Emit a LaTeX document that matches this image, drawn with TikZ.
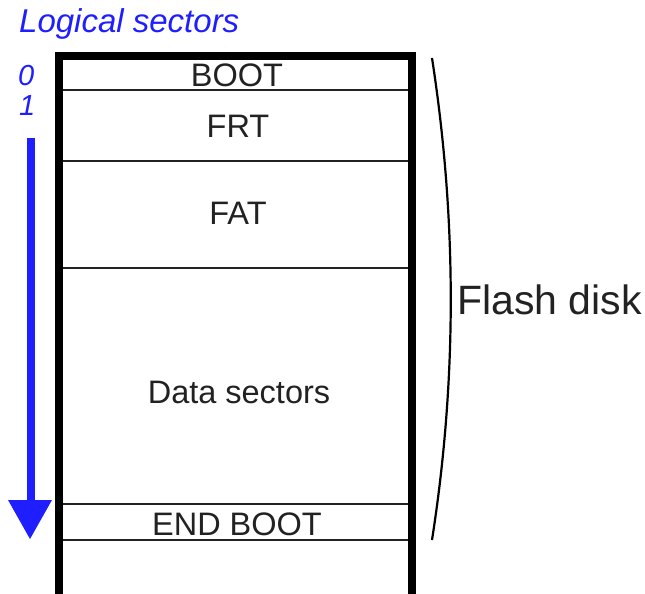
\documentclass[tikz,border=0pt]{standalone}
\usepackage{fontspec}
\setmainfont{Liberation Sans}
\definecolor{lblue}{RGB}{30,30,255}
\definecolor{ink}{RGB}{34,34,34}
\begin{document}
\begin{tikzpicture}[x=1pt,y=-1pt,
  frame/.style={line width=8pt,black,line join=miter},
  sepline/.style={line width=2.5pt,ink},
  seclabel/.style={anchor=base,inner sep=0pt,font=\fontsize{32.5}{32.5}\selectfont,text=ink},
  bluelbl/.style={anchor=base west,inner sep=0pt,font=\fontsize{33}{33}\selectfont\itshape,text=lblue},
  bracket/.style={line width=2.2pt,black}]
\useasboundingbox (0,0) rectangle (645,594);
% frame
\draw[frame] (59,600) -- (59,56) -- (412,56) -- (412,600);
% separators
\foreach \yy in {90,161,268,504,540}
  \draw[sepline] (63,\yy) -- (408,\yy);
% section labels
\node[seclabel] (boot) at (237,86) {BOOT};
\node[seclabel] (frt) at (238,137) {FRT};
\node[seclabel] (fat) at (238,224) {FAT};
\node[seclabel] (data) at (239,403) {Data sectors};
\node[seclabel] (endboot) at (237,535) {END BOOT};
% left labels
\node[bluelbl] (logical) at (19,33) {Logical sectors};
\node[bluelbl,font=\fontsize{29}{29}\selectfont\itshape] (zero) at (18,85) {0};
\node[bluelbl,font=\fontsize{29}{29}\selectfont\itshape] (one) at (19,115) {1};
% arrow
\coordinate (arrtop) at (31,138);
\coordinate (arrbase) at (31,500);
\coordinate (arrtip) at (30,539);
\fill[lblue] ([xshift=-4pt]arrtop) rectangle ([xshift=4pt,yshift=-2pt]arrbase);
\fill[lblue] ([xshift=-23pt]arrbase) -- ([xshift=21pt]arrbase) -- (arrtip) -- cycle;
% bracket
\coordinate (brtop) at (432,58);
\coordinate (brbot) at (432,540);
\draw[bracket] (brtop) .. controls (457,220) and (457,380) .. (brbot);
\node[anchor=base west,inner sep=0pt,font=\fontsize{41}{41}\selectfont,text=ink] (flash) at (457,314) {Flash disk};
\end{tikzpicture}
\end{document}
